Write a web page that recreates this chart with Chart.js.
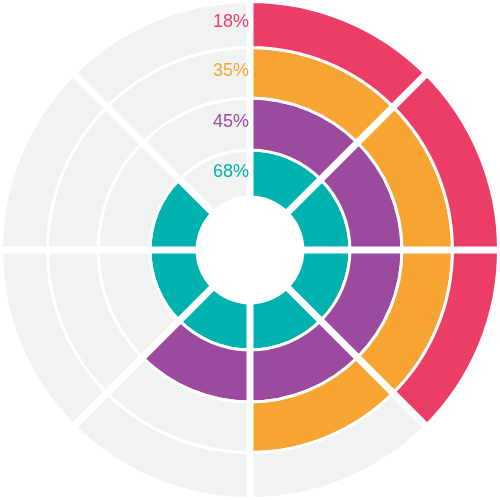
<!DOCTYPE html>
<html>
<head>
<meta charset="utf-8">
<script src="https://cdn.jsdelivr.net/npm/chart.js@4/dist/chart.umd.min.js"></script>
<style>
  html, body { margin: 0; padding: 0; background: #ffffff; }
  #wrap { width: 500px; height: 500px; }
</style>
</head>
<body>
<div id="wrap"><canvas id="c" width="500" height="500"></canvas></div>
<script>
// ---- data (outer ring first) ----
const ringLabels = ['18%', '35%', '45%', '68%'];
const ringColors = ['#ec3d66', '#f7a432', '#9b4a9e', '#00b2ad'];
const filledSegments = [3, 4, 5, 7];          // coloured segments per ring, clockwise from 12 o'clock
const segmentValues = [1, 1, 1, 1, 1, 1, 1, 1]; // 8 equal segments
const segmentNames = ['s1', 's2', 's3', 's4', 's5', 's6', 's7', 's8'];
const ringWeights = [46, 50.5, 52, 47];
const emptyColor = '#f1f2f2';

const datasets = ringLabels.map((lab, i) => ({
  label: lab,
  data: segmentValues,
  weight: ringWeights[i],
  backgroundColor: segmentValues.map((v, j) => j < filledSegments[i] ? ringColors[i] : emptyColor),
  hoverBackgroundColor: segmentValues.map((v, j) => j < filledSegments[i] ? ringColors[i] : emptyColor),
  borderColor: '#ffffff',
  borderWidth: 3
}));

// white radial gaps between segments + ring labels
const gapAndLabelPlugin = {
  id: 'gapsAndLabels',
  afterDatasetsDraw(chart) {
    const ctx = chart.ctx;
    const outerArcs = chart.getDatasetMeta(0).data;
    ctx.save();
    ctx.strokeStyle = '#ffffff';
    ctx.lineWidth = 7;
    ctx.lineCap = 'butt';
    outerArcs.forEach(arc => {
      const a = arc.startAngle;
      const R = arc.outerRadius + 4;
      ctx.beginPath();
      ctx.moveTo(arc.x, arc.y);
      ctx.lineTo(arc.x + Math.cos(a) * R, arc.y + Math.sin(a) * R);
      ctx.stroke();
    });
    ctx.font = '18px "Liberation Sans", Arial, sans-serif';
    ctx.textAlign = 'right';
    ctx.textBaseline = 'middle';
    chart.data.datasets.forEach((ds, i) => {
      const arc = chart.getDatasetMeta(i).data[0];
      const mid = (arc.innerRadius + arc.outerRadius) / 2;
      ctx.fillStyle = ringColors[i];
      ctx.fillText(ds.label, arc.x - 1, arc.y - mid - 2);
    });
    ctx.restore();
  }
};

new Chart(document.getElementById('c'), {
  type: 'doughnut',
  data: { labels: segmentNames, datasets },
  options: {
    responsive: false,
    animation: false,
    radius: 248.5,
    cutout: '21.3%',
    layout: { padding: 0 },
    plugins: { legend: { display: false }, tooltip: { enabled: false } }
  },
  plugins: [gapAndLabelPlugin]
});
</script>
</body>
</html>
